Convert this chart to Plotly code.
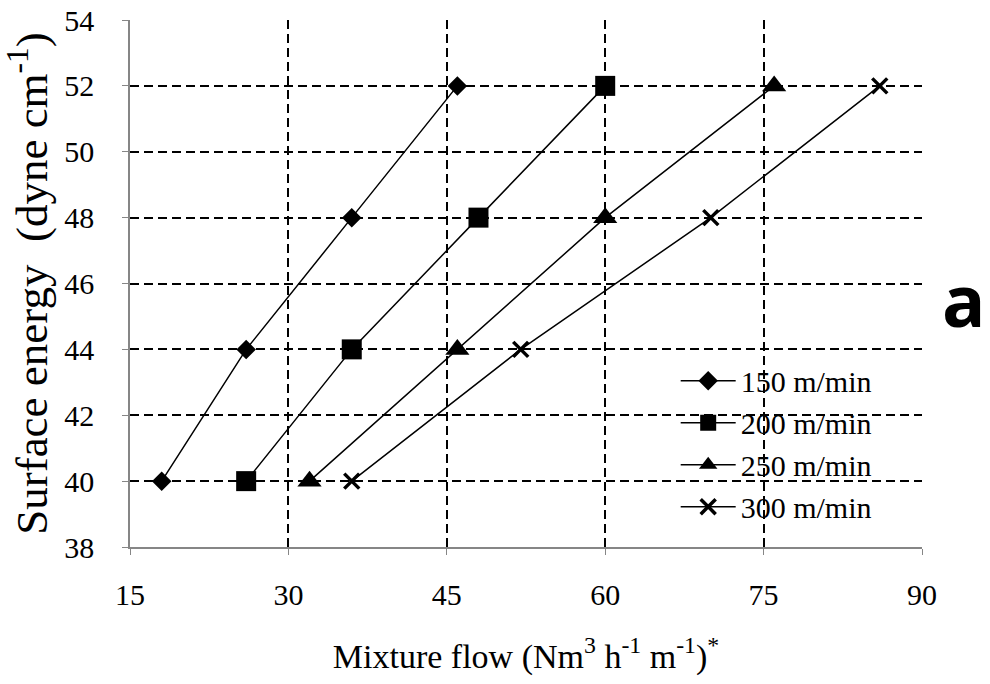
import plotly.graph_objects as go

x_150 = [18, 26, 36, 46]
y_150 = [40, 44, 48, 52]
x_200 = [26, 36, 48, 60]
y_200 = [40, 44, 48, 52]
x_250 = [32, 46, 60, 76]
y_250 = [40, 44, 48, 52]
x_300 = [36, 52, 70, 86]
y_300 = [40, 44, 48, 52]

names = ["150 m/min", "200 m/min", "250 m/min", "300 m/min"]
symbols = ["diamond", "square", "triangle-up", "x-thin"]
sizes = [15, 20, 21, 15]

x_ticks = [15, 30, 45, 60, 75, 90]
y_ticks = [38, 40, 42, 44, 46, 48, 50, 52, 54]

SERIF = "Liberation Serif"

fig = go.Figure()
for xs, ys, nm, sym, sz in zip([x_150, x_200, x_250, x_300],
                               [y_150, y_200, y_250, y_300],
                               names, symbols, sizes):
    fig.add_trace(go.Scatter(
        x=xs, y=ys, name=nm, mode="lines+markers",
        line=dict(color="black", width=1.5),
        marker=dict(symbol=sym, size=sz, color="black",
                    line=dict(color="black", width=3.5 if sym == "x-thin" else 0)),
    ))

fig.update_layout(
    width=990, height=684,
    margin=dict(l=130, r=68, t=20, b=137),
    paper_bgcolor="white", plot_bgcolor="white",
    font=dict(family=SERIF, color="black", size=30),
    showlegend=True,
    legend=dict(x=0.689, y=0.365, xanchor="left", yanchor="top",
                bgcolor="rgba(0,0,0,0)", itemwidth=55,
                font=dict(size=30, family=SERIF, color="black")),
    xaxis=dict(range=[15, 90], tickvals=x_ticks, ticks="outside", ticklen=6,
               tickcolor="#868686", showline=True, linecolor="#868686", linewidth=1.5,
               showgrid=True, gridcolor="black", gridwidth=1.5, griddash="9px,5px",
               zeroline=False, automargin=False,
               tickfont=dict(size=30, family=SERIF, color="black"),
               ticklabelstandoff=14,
               title=dict(text="Mixture flow (Nm<sup>3</sup> h<sup>-1</sup> m<sup>-1</sup>)<sup>*</sup>",
                          font=dict(size=34, family=SERIF, color="black"), standoff=34)),
    yaxis=dict(range=[38, 54], tickvals=y_ticks, ticks="outside", ticklen=6,
               tickcolor="#868686", showline=True, linecolor="#868686", linewidth=1.5,
               showgrid=True, gridcolor="black", gridwidth=1.5, griddash="9px,5px",
               zeroline=False, automargin=False,
               tickfont=dict(size=30, family=SERIF, color="black"),
               ticklabelstandoff=22,
               title=dict(text="Surface energy  (dyne cm<sup>-1</sup>)",
                          font=dict(size=45, family=SERIF, color="black"), standoff=12)),
)

fig.add_annotation(text="<b>a</b>", xref="paper", yref="paper",
                   x=1.053, y=0.47, xanchor="center", yanchor="middle",
                   showarrow=False,
                   font=dict(family="Open Sans", size=72, color="black"))

fig.write_html("out.html")
